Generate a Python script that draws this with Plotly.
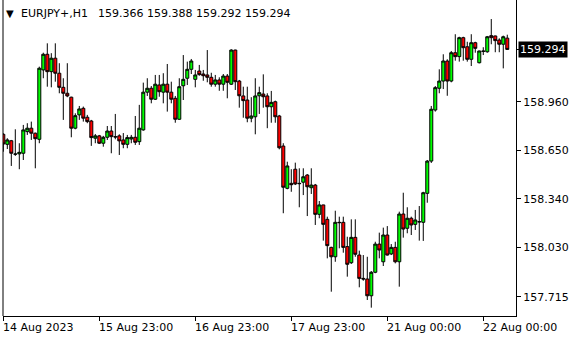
import plotly.graph_objects as go

symbol = "EURJPY+,H1"
last_bar = "159.366 159.388 159.292 159.294"

opens = [158.752,158.688,158.711,158.625,158.627,158.631,158.769,158.791,158.759,158.720,
         159.163,159.263,159.152,159.238,159.142,159.052,159.014,158.989,158.791,158.876,
         158.918,158.861,158.837,158.727,158.742,158.695,158.733,158.773,158.737,158.742,
         158.716,158.688,158.722,158.733,158.705,158.780,159.021,159.046,158.976,159.067,
         159.021,159.072,159.021,158.982,158.848,159.062,159.110,159.167,159.103,159.156,
         159.137,159.131,159.116,159.072,159.099,159.072,159.124,159.072,159.290,159.092,
         158.997,158.971,158.855,158.864,158.998,159.009,158.997,158.928,158.960,158.869,
         158.677,158.407,158.439,158.529,158.439,158.446,158.492,158.411,158.428,158.241,
         158.301,158.209,158.030,157.970,158.190,158.190,158.035,157.932,158.094,157.981,
         157.832,157.828,157.721,157.871,158.051,157.938,158.109,157.988,158.030,157.938,
         158.243,158.152,158.216,158.177,158.194,158.190,158.375,158.581,158.907,159.046,
         159.092,159.220,159.092,159.273,159.248,159.369,159.311,159.231,159.337,159.209,
         159.284,159.279,159.382,159.380,159.354,159.327,159.366]
highs = [158.759,158.727,158.716,158.784,158.695,158.812,158.823,158.833,158.763,159.184,
         159.273,159.333,159.270,159.333,159.206,159.110,159.206,158.992,158.886,158.933,
         158.929,158.876,158.844,158.754,158.748,158.742,158.805,158.805,158.882,158.752,
         158.760,158.748,158.748,158.869,158.940,159.082,159.110,159.060,159.131,159.131,
         159.142,159.201,159.088,158.997,159.110,159.258,159.216,159.233,159.163,159.195,
         159.163,159.290,159.145,159.131,159.116,159.137,159.137,159.295,159.292,159.099,
         159.056,159.056,158.989,159.110,159.056,159.135,159.014,159.029,158.967,158.876,
         158.695,158.577,158.529,158.571,158.535,158.535,158.498,158.535,158.435,158.326,
         158.302,158.226,158.034,158.264,158.226,158.226,158.098,158.209,158.209,158.009,
         157.981,157.970,157.879,158.066,158.124,158.156,158.166,158.051,158.066,158.258,
         158.379,158.286,158.226,158.269,158.294,158.385,158.588,158.933,159.060,159.167,
         159.263,159.231,159.284,159.391,159.375,159.375,159.343,159.391,159.343,159.286,
         159.308,159.380,159.488,159.382,159.365,159.382,159.388]
lows = [158.641,158.658,158.550,158.614,158.529,158.588,158.748,158.716,158.535,158.695,
        159.110,159.056,159.052,159.088,159.014,158.844,158.989,158.733,158.784,158.844,
        158.833,158.823,158.678,158.695,158.690,158.673,158.716,158.631,158.720,158.620,
        158.663,158.663,158.695,158.684,158.684,158.775,158.997,158.950,158.971,158.992,
        158.950,158.897,158.950,158.826,158.844,158.971,159.067,159.137,159.052,159.126,
        159.094,159.084,159.056,159.056,159.030,159.030,158.982,159.067,159.035,158.922,
        158.858,158.829,158.829,158.752,158.882,158.922,158.791,158.826,158.826,158.656,
        158.248,158.401,158.385,158.428,158.286,158.364,158.230,158.371,158.173,158.216,
        158.073,157.960,157.747,157.938,158.024,157.996,157.843,157.924,157.970,157.775,
        157.817,157.694,157.645,157.865,157.960,157.911,157.978,157.981,157.928,157.779,
        158.092,158.120,158.109,158.141,158.073,158.071,158.315,158.569,158.897,159.014,
        159.041,158.998,159.084,159.222,159.216,159.222,159.216,159.188,159.273,159.205,
        159.258,159.273,159.327,159.276,159.276,159.173,159.292]
closes = [158.690,158.716,158.631,158.626,158.637,158.780,158.791,158.759,158.724,159.174,
          159.263,159.152,159.238,159.142,159.052,159.014,158.997,158.791,158.871,158.914,
          158.855,158.833,158.731,158.742,158.695,158.733,158.773,158.737,158.735,158.710,
          158.688,158.731,158.733,158.701,158.791,159.021,159.046,158.976,159.072,159.024,
          159.072,159.021,158.976,158.848,159.056,159.103,159.167,159.220,159.131,159.133,
          159.126,159.116,159.072,159.099,159.072,159.124,159.084,159.290,159.088,158.998,
          158.967,158.855,158.869,158.997,159.018,158.992,158.928,158.956,158.864,158.666,
          158.414,158.550,158.430,158.435,158.437,158.481,158.417,158.428,158.241,158.301,
          158.177,158.041,157.970,158.190,158.188,158.030,157.922,158.094,157.986,157.832,
          157.828,157.721,157.871,158.051,158.013,158.109,157.981,158.030,157.938,158.243,
          158.147,158.216,158.173,158.205,158.193,158.379,158.581,158.912,159.050,159.092,
          159.220,159.092,159.273,159.248,159.369,159.305,159.231,159.337,159.301,159.284,
          159.282,159.375,159.369,159.350,159.327,159.375,159.294]

tick_bars = [0, 24, 48, 72, 96, 120]
tick_labels = ["14 Aug 2023", "15 Aug 23:00", "16 Aug 23:00", "17 Aug 23:00",
               "21 Aug 00:00", "22 Aug 00:00"]
price_ticks = [157.715, 158.030, 158.340, 158.650, 158.960]
price_labels = ["157.715", "158.030", "158.340", "158.650", "158.960"]
last_price = 159.294

bars = list(range(len(opens)))
FONT = "DejaVu Sans"

fig = go.Figure(go.Candlestick(
    x=bars, open=opens, high=highs, low=lows, close=closes,
    increasing=dict(fillcolor="#00FF00", line=dict(color="black", width=1)),
    decreasing=dict(fillcolor="#FF0000", line=dict(color="black", width=1)),
    whiskerwidth=0, showlegend=False, hoverinfo="skip",
))

annotations = []
for b, t in zip(tick_bars, tick_labels):
    annotations.append(dict(x=b, xref="x", y=0, yref="paper", text=t, showarrow=False,
                            xanchor="left", yanchor="top", xshift=-2, yshift=-3,
                            font=dict(family=FONT, size=11, color="black")))
annotations.append(dict(x=0, xref="paper", y=1, yref="paper", text="▼", showarrow=False,
                        xanchor="left", yanchor="top", xshift=1, yshift=-6,
                        font=dict(family=FONT, size=10, color="black")))
annotations.append(dict(x=0, xref="paper", y=1, yref="paper", text=symbol, showarrow=False,
                        xanchor="left", yanchor="top", xshift=16, yshift=-5,
                        font=dict(family=FONT, size=11, color="black")))
annotations.append(dict(x=0, xref="paper", y=1, yref="paper", text=last_bar, showarrow=False,
                        xanchor="left", yanchor="top", xshift=93, yshift=-5,
                        font=dict(family=FONT, size=11, color="black")))
annotations.append(dict(x=1, xref="paper", y=last_price, yref="y", text=f"{last_price:.3f}",
                        showarrow=False, xanchor="left", yanchor="middle", xshift=2,
                        bgcolor="black", borderpad=1,
                        font=dict(family=FONT, size=11, color="white")))

fig.update_layout(
    width=580, height=340,
    margin=dict(l=3, r=64, t=0, b=24),
    paper_bgcolor="white", plot_bgcolor="white",
    font=dict(family=FONT, size=11, color="black"),
    boxgap=0.25, boxgroupgap=0,
    annotations=annotations,
    shapes=[dict(type="line", xref="paper", yref="paper", x0=0, x1=0, y0=0, y1=1,
                 line=dict(color="black", width=1))],
    xaxis=dict(range=[-0.075, 128.18], rangeslider=dict(visible=False),
               showgrid=False, zeroline=False, showline=True, linecolor="black", linewidth=1,
               ticks="outside", ticklen=4, tickcolor="black",
               tickvals=tick_bars, showticklabels=False, fixedrange=True),
    yaxis=dict(range=[157.5918, 159.6096], side="right", showgrid=False, zeroline=False,
               showline=True, linecolor="black", linewidth=1,
               ticks="outside", ticklen=4, tickcolor="black",
               tickvals=price_ticks + [last_price], ticktext=price_labels + [""],
               tickfont=dict(family=FONT, size=11, color="black"), fixedrange=True),
)

fig.write_html("out.html")
